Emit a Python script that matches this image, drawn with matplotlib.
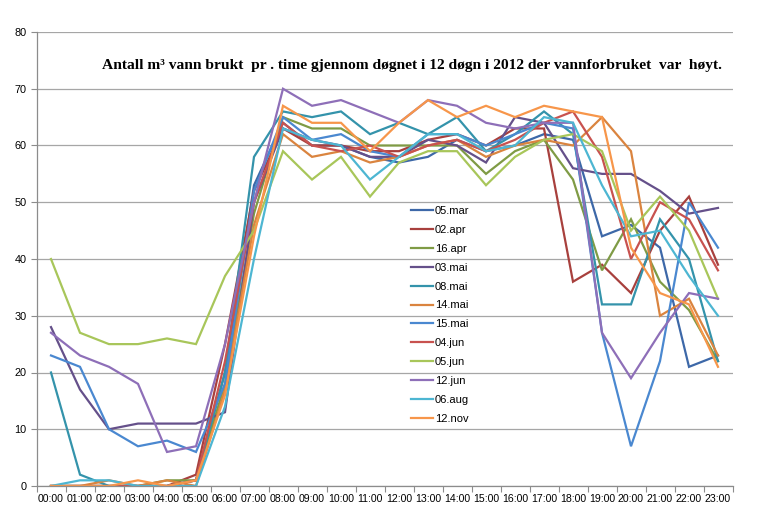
import matplotlib
matplotlib.use("Agg")
import matplotlib.pyplot as plt

hours = ["%02d:00" % h for h in range(24)]

s_05mar = [0, 0, 0, 0, 0, 1, 20, 53, 64, 60, 60, 58, 57, 58, 61, 59, 60, 62, 61, 44, 46, 42, 21, 23]
s_02apr = [0, 0, 0, 0, 0, 2, 25, 52, 63, 60, 60, 59, 59, 61, 62, 60, 63, 63, 36, 39, 34, 45, 51, 39]
s_16apr = [0, 0, 0, 0, 1, 1, 18, 48, 65, 63, 63, 60, 60, 60, 60, 55, 59, 61, 54, 38, 47, 36, 31, 22]
s_03mai = [28, 17, 10, 11, 11, 11, 13, 50, 63, 61, 60, 58, 58, 61, 60, 57, 65, 64, 56, 55, 55, 52, 48, 49]
s_08mai = [20, 2, 0, 0, 0, 1, 20, 58, 66, 65, 66, 62, 64, 62, 65, 59, 62, 66, 62, 32, 32, 47, 40, 22]
s_14mai = [0, 0, 1, 0, 1, 0, 17, 46, 62, 58, 59, 57, 58, 60, 61, 58, 60, 61, 60, 65, 59, 30, 33, 23]
s_15mai = [23, 21, 10, 7, 8, 6, 18, 52, 65, 61, 62, 59, 58, 62, 62, 60, 62, 64, 63, 27, 7, 22, 50, 42]
s_04jun = [0, 0, 0, 0, 0, 1, 22, 50, 64, 60, 59, 60, 58, 60, 61, 59, 61, 64, 66, 58, 40, 50, 47, 38]
s_05jun = [40, 27, 25, 25, 26, 25, 37, 45, 59, 54, 58, 51, 57, 59, 59, 53, 58, 61, 62, 59, 45, 51, 45, 33]
s_12jun = [27, 23, 21, 18, 6, 7, 25, 50, 70, 67, 68, 66, 64, 68, 67, 64, 63, 64, 64, 27, 19, 27, 34, 33]
s_06aug = [0, 1, 1, 0, 0, 0, 14, 40, 63, 61, 60, 54, 58, 62, 62, 59, 60, 65, 64, 53, 44, 45, 37, 30]
s_12nov = [0, 0, 0, 1, 0, 1, 16, 44, 67, 64, 64, 59, 64, 68, 65, 67, 65, 67, 66, 65, 42, 34, 32, 21]

series_names = ["05.mar", "02.apr", "16.apr", "03.mai", "08.mai", "14.mai",
                "15.mai", "04.jun", "05.jun", "12.jun", "06.aug", "12.nov"]
series_values = [s_05mar, s_02apr, s_16apr, s_03mai, s_08mai, s_14mai,
                 s_15mai, s_04jun, s_05jun, s_12jun, s_06aug, s_12nov]
colors = ["#3D68A8", "#A8403D", "#7F9B45", "#65508A", "#3493AB", "#DA843F",
          "#4A88D0", "#C8524F", "#A8C65A", "#8E6FB8", "#4DB6D2", "#F7964A"]

y_ticks = [0, 10, 20, 30, 40, 50, 60, 70, 80]
title = "Antall m³ vann brukt  pr . time gjennom døgnet i 12 døgn i 2012 der vannforbruket  var  høyt."

W, H = 759, 507
fig = plt.figure(figsize=(W / 100, H / 100), dpi=100)
left, right, top, bottom = 36.5, 732.5, 32, 486
ax = fig.add_axes([left / W, 1 - bottom / H, (right - left) / W, (bottom - top) / H])

x = list(range(len(hours)))
for name, vals, c in zip(series_names, series_values, colors):
    ax.plot(x, vals, color=c, lw=1.6, label=name, solid_joinstyle="miter")

ax.set_xlim(-0.5, len(hours) - 0.5)
ax.set_ylim(0, 80)
ax.set_yticks(y_ticks)
ax.set_yticklabels([str(v) for v in y_ticks], fontsize=7.8, family="Liberation Sans")
ax.set_xticks(x)
ax.set_xticklabels(hours, fontsize=7.6, family="Liberation Sans")
ax.set_xticks([i - 0.5 for i in range(len(hours) + 1)], minor=True)
ax.tick_params(axis="x", which="major", length=0, pad=6)
ax.tick_params(axis="x", which="minor", length=4, color="#8C8C8C", width=0.8)
ax.tick_params(axis="y", length=4, color="#8C8C8C", width=0.8, pad=3)
ax.yaxis.grid(True, color="#A6A6A6", lw=0.9)
ax.set_axisbelow(True)
for s in ["top", "right"]:
    ax.spines[s].set_visible(False)
for s in ["left", "bottom"]:
    ax.spines[s].set_color("#8C8C8C")
    ax.spines[s].set_linewidth(0.9)

fig.text(101.7 / W, 1 - 65 / H, title, ha="left", va="center",
         family="Liberation Serif", fontweight="bold", fontsize=11.15)

leg = ax.legend(loc="upper left", bbox_to_anchor=(411 / W, 1 - 206 / H),
                bbox_transform=fig.transFigure, frameon=False,
                prop={"family": "Liberation Sans", "size": 8},
                handlelength=2.0, handletextpad=0.15, labelspacing=0.8,
                borderpad=0, borderaxespad=0)

fig.savefig("out.png", dpi=100, facecolor="white")
